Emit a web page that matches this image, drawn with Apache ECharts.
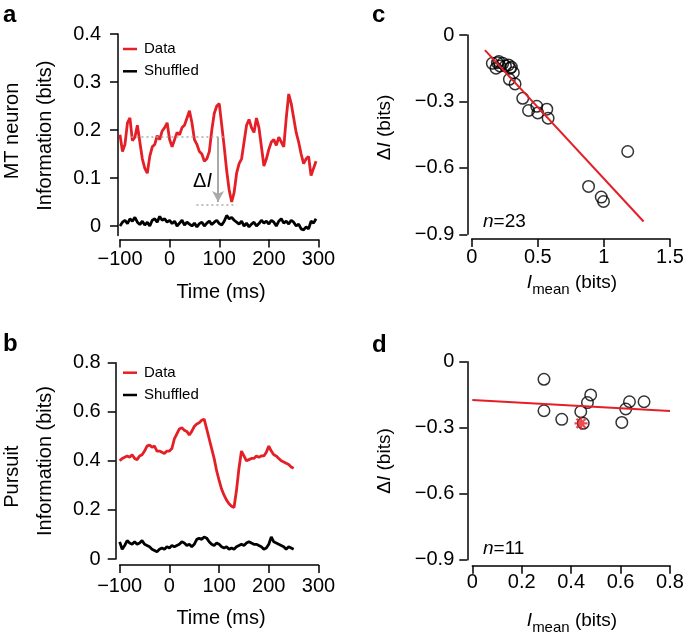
<!DOCTYPE html>
<html><head><meta charset="utf-8">
<script src="https://cdn.jsdelivr.net/npm/echarts@6/dist/echarts.min.js"></script>
<style>html,body{margin:0;padding:0;background:#fff}#c{width:685px;height:637px}</style>
</head><body><div id="c"></div>
<script>
// ---------- data ----------
// sample times (ms), 5 ms spacing
const timeA = []; for (let t = -100; t <= 295; t += 5) timeA.push(t);
const timeB = []; for (let t = -100; t <= 250; t += 5) timeB.push(t);

// Panel a: MT neuron information (bits)
const aData = [
  0.19, 0.155, 0.17, 0.215, 0.225, 0.178, 0.185, 0.21, 0.175, 0.14,
  0.12, 0.11, 0.145, 0.165, 0.17, 0.188, 0.18, 0.198, 0.205, 0.215,
  0.18, 0.165, 0.18, 0.195, 0.19, 0.205, 0.21, 0.225, 0.24, 0.215,
  0.18, 0.17, 0.155, 0.15, 0.135, 0.14, 0.155, 0.2, 0.235, 0.25,
  0.255, 0.21, 0.165, 0.115, 0.075, 0.05, 0.07, 0.11, 0.13, 0.14,
  0.175, 0.21, 0.222, 0.205, 0.195, 0.225, 0.205, 0.165, 0.125, 0.14,
  0.16, 0.175, 0.18, 0.168, 0.185, 0.175, 0.165, 0.225, 0.275, 0.255,
  0.225, 0.195, 0.175, 0.15, 0.13, 0.14, 0.145, 0.105, 0.12, 0.135
];
const aShuffled = [
  0.0, 0.008, 0.012, 0.005, 0.015, 0.01, 0.018, 0.008, 0.003, 0.01,
  0.002, 0.008, 0.0, 0.012, 0.015, 0.008, 0.02, 0.012, 0.015, 0.008,
  0.012, 0.005, 0.01, 0.0, 0.006, 0.012, 0.002, 0.008, 0.004, 0.0,
  0.006, -0.002, 0.005, 0.008, 0.0, 0.006, 0.01, 0.003, 0.008, 0.012,
  0.005, 0.002, 0.01, 0.022, 0.015, 0.018, 0.012, 0.008, 0.004, 0.01,
  0.0, 0.006, -0.002, 0.004, 0.008, 0.0, 0.005, 0.012, 0.006, 0.01,
  0.004, 0.012, 0.008, 0.0, 0.01, 0.015, 0.006, 0.01, 0.004, 0.012,
  0.008, 0.0, 0.004, -0.006, -0.008, -0.002, -0.006, 0.01, 0.006, 0.015
];
// Delta-I annotation (time ms, bits)
const deltaTopLine = [-77, 114, 0.185];
const deltaBottomLine = [54, 135, 0.045];
const deltaArrow = [97.6, 0.185, 0.05];

// Panel b: Pursuit information (bits)
const bData = [
  0.40, 0.41, 0.415, 0.42, 0.415, 0.425, 0.41, 0.405, 0.42, 0.425,
  0.44, 0.46, 0.465, 0.455, 0.46, 0.44, 0.44, 0.435, 0.43, 0.44,
  0.44, 0.45, 0.49, 0.51, 0.53, 0.535, 0.525, 0.52, 0.505, 0.52,
  0.54, 0.55, 0.555, 0.565, 0.57, 0.53, 0.49, 0.45, 0.41, 0.36,
  0.32, 0.285, 0.26, 0.24, 0.225, 0.215, 0.21, 0.28, 0.37, 0.44,
  0.42, 0.40, 0.405, 0.41, 0.41, 0.42, 0.415, 0.42, 0.42, 0.435,
  0.46, 0.44, 0.425, 0.42, 0.41, 0.40, 0.395, 0.39, 0.385, 0.375,
  0.37
];
const bShuffled = [
  0.07, 0.04, 0.055, 0.075, 0.065, 0.06, 0.07, 0.06, 0.065, 0.075,
  0.06, 0.055, 0.05, 0.04, 0.035, 0.03, 0.04, 0.045, 0.04, 0.05,
  0.045, 0.055, 0.05, 0.055, 0.06, 0.07, 0.065, 0.055, 0.06, 0.05,
  0.06, 0.08, 0.085, 0.08, 0.09, 0.085, 0.07, 0.06, 0.055, 0.065,
  0.06, 0.05, 0.045, 0.05, 0.04, 0.045, 0.04, 0.05, 0.055, 0.06,
  0.055, 0.065, 0.07, 0.065, 0.06, 0.06, 0.055, 0.05, 0.04, 0.045,
  0.06, 0.09, 0.07, 0.065, 0.06, 0.055, 0.05, 0.04, 0.05, 0.045,
  0.04
];

// Panel c: I_mean vs Delta I (MT neurons, n=23)
const cX = [0.156, 0.194, 0.214, 0.184, 0.235, 0.205, 0.255, 0.278, 0.29, 0.315, 0.3, 0.285, 0.328,
            0.386, 0.43, 0.492, 0.5, 0.568, 0.578, 0.884, 0.98, 0.997, 1.18];
const cY = [-0.128, -0.125, -0.14, -0.15, -0.128, -0.12, -0.14, -0.135, -0.15, -0.17, -0.145, -0.2, -0.221,
            -0.286, -0.341, -0.322, -0.352, -0.335, -0.376, -0.684, -0.732, -0.752, -0.526];
const cFitX = [0.1, 1.3];
const cFitY = [-0.068, -0.842];

// Panel d: pursuit (n=11)
const dX = [0.29, 0.29, 0.362, 0.439, 0.449, 0.466, 0.479, 0.605, 0.621, 0.636, 0.695];
const dY = [-0.08, -0.223, -0.262, -0.227, -0.28, -0.186, -0.151, -0.276, -0.215, -0.182, -0.182];
const dStar = [0.44, -0.28];
const dFitX = [0, 0.8];
const dFitY = [-0.174, -0.224];

// tick values
const aYTicks = [0, 0.1, 0.2, 0.3, 0.4];

// ---------- styling ----------
const FONT = '"Liberation Sans", Arial, Helvetica, sans-serif';
const RED = '#e41f26';
const GRAY = '#a9a9a9';
const fmt = v => { const r = Math.round(v * 1000) / 1000; return (r === 0 ? '0' : String(r)).replace('-', '\u2212'); };

function mkAxis(kind, gi, min, max, interval, offset, margin) {
  return {
    type: 'value', gridIndex: gi, min: min, max: max, interval: interval, offset: offset,
    position: kind === 'x' ? 'bottom' : 'left',
    axisLine: { show: true, onZero: false, lineStyle: { color: '#000', width: 1.5 } },
    axisTick: { show: true, inside: false, length: 8, lineStyle: { color: '#000', width: 1.5 } },
    axisLabel: { show: true, margin: margin, color: '#000', fontSize: 20, fontFamily: FONT, formatter: fmt },
    splitLine: { show: false }, minorTick: { show: false }
  };
}

const yA = mkAxis('y', 0, -0.02, 0.4, null, 2, 17);
delete yA.interval;
yA.axisTick.customValues = aYTicks;
yA.axisLabel.customValues = aYTicks;

const grids = [
  { left: 120, top: 34, width: 198.5, height: 201.6 },
  { left: 119.7, top: 362.7, width: 198.8, height: 196.3 },
  { left: 471.7, top: 35, width: 198.3, height: 199.3 },
  { left: 472.3, top: 361.7, width: 197.7, height: 198 }
].map(g => Object.assign(g, { containLabel: false, outerBoundsMode: 'none' }));

const pair = (xs, ys) => ys.map((v, i) => [xs[i], v]);

const legendBase = {
  orient: 'vertical', padding: 0, itemGap: 7.3, itemWidth: 14, itemHeight: 2.5, icon: 'rect',
  selectedMode: false, data: ['Data', 'Shuffled'],
  textStyle: { fontSize: 15, color: '#000', fontFamily: FONT, padding: [0, 0, 0, 2] }
};

const dashStyle = { color: GRAY, width: 1.5, type: [2, 3] };
const TRACE_W = 2.8;

const option = {
  animation: false,
  backgroundColor: '#fff',
  grid: grids,
  legend: [
    Object.assign({}, legendBase, { left: 123, top: 41.5 }),
    Object.assign({}, legendBase, { left: 123, top: 365.2 })
  ],
  xAxis: [
    mkAxis('x', 0, -100, 300, 100, 4, 10),
    mkAxis('x', 1, -100, 300, 100, 6, 11),
    mkAxis('x', 2, 0, 1.5, 0.5, 4.7, 8),
    mkAxis('x', 3, 0, 0.8, 0.2, 6, 7)
  ],
  yAxis: [
    yA,
    mkAxis('y', 1, 0, 0.8, 0.2, 4, 15),
    mkAxis('y', 2, -0.9, 0, 0.3, 4.4, 13),
    mkAxis('y', 3, -0.9, 0, 0.3, 5, 13)
  ],
  series: [
    { type: 'line', name: 'Shuffled', xAxisIndex: 0, yAxisIndex: 0, data: pair(timeA, aShuffled),
      symbol: 'none', clip: false, silent: true,
      lineStyle: { color: '#000', width: TRACE_W }, itemStyle: { color: '#000' } },
    { type: 'line', name: 'Data', xAxisIndex: 0, yAxisIndex: 0, data: pair(timeA, aData),
      symbol: 'none', clip: false, silent: true,
      lineStyle: { color: RED, width: TRACE_W }, itemStyle: { color: RED },
      markLine: {
        silent: true, symbol: 'none', label: { show: false }, emphasis: { disabled: true },
        data: [
          [{ coord: [deltaTopLine[0], deltaTopLine[2]], lineStyle: dashStyle }, { coord: [deltaTopLine[1], deltaTopLine[2]], lineStyle: dashStyle }],
          [{ coord: [deltaBottomLine[0], deltaBottomLine[2]], lineStyle: dashStyle }, { coord: [deltaBottomLine[1], deltaBottomLine[2]], lineStyle: dashStyle }],
          [{ coord: [deltaArrow[0], deltaArrow[1]], symbol: 'none', lineStyle: { color: GRAY, width: 2, type: 'solid' } },
           { coord: [deltaArrow[0], deltaArrow[2]], symbol: 'arrow', symbolSize: [9, 11], lineStyle: { color: GRAY, width: 2, type: 'solid' } }]
        ]
      } },
    { type: 'line', name: 'Shuffled', xAxisIndex: 1, yAxisIndex: 1, data: pair(timeB, bShuffled),
      symbol: 'none', clip: false, silent: true,
      lineStyle: { color: '#000', width: TRACE_W }, itemStyle: { color: '#000' } },
    { type: 'line', name: 'Data', xAxisIndex: 1, yAxisIndex: 1, data: pair(timeB, bData),
      symbol: 'none', clip: false, silent: true,
      lineStyle: { color: RED, width: TRACE_W }, itemStyle: { color: RED } },
    { type: 'scatter', xAxisIndex: 2, yAxisIndex: 2, data: pair(cX, cY), symbol: 'circle', symbolSize: 11.5, silent: true,
      itemStyle: { color: 'rgba(0,0,0,0)', borderColor: '#000', borderWidth: 1.5 } },
    { type: 'line', xAxisIndex: 2, yAxisIndex: 2, data: pair(cFitX, cFitY), symbol: 'none', silent: true,
      lineStyle: { color: RED, width: 2 } },
    { type: 'scatter', xAxisIndex: 3, yAxisIndex: 3, data: pair(dX, dY), symbol: 'circle', symbolSize: 11.5, silent: true,
      itemStyle: { color: 'rgba(0,0,0,0)', borderColor: '#000', borderWidth: 1.5 } },
    { type: 'line', xAxisIndex: 3, yAxisIndex: 3, data: pair(dFitX, dFitY), symbol: 'none', silent: true,
      lineStyle: { color: RED, width: 2 } },
    { type: 'scatter', xAxisIndex: 3, yAxisIndex: 3, data: [dStar], silent: true,
      symbol: 'path://M10,0L10,20M0,10L20,10M3,3L17,17M3,17L17,3', symbolSize: 13,
      itemStyle: { color: 'none', borderColor: RED, borderWidth: 2.2 } }
  ],
  graphic: []
};

// ---------- text labels ----------
function txt(text, x, y, opts) {
  opts = opts || {};
  return {
    type: 'text', x: x, y: y, rotation: opts.rot || 0, silent: true,
    style: {
      text: text, fill: '#000', align: opts.align || 'center', verticalAlign: 'middle',
      fontSize: opts.size || 20, fontFamily: FONT, fontWeight: opts.bold ? 'bold' : 'normal',
      rich: opts.rich
    }
  };
}
const R90 = Math.PI / 2;
const richDI = {
  n: { fontSize: 19, fontFamily: FONT, fill: '#000' },
  i: { fontSize: 19, fontFamily: FONT, fontStyle: 'italic', fill: '#000' }
};
const richImean = {
  n: { fontSize: 19, fontFamily: FONT, fill: '#000' },
  i: { fontSize: 19, fontFamily: FONT, fontStyle: 'italic', fill: '#000' },
  s: { fontSize: 15, fontFamily: FONT, fill: '#000', padding: [14, 0, 0, 0] }
};
const richN = {
  n: { fontSize: 19, fontFamily: FONT, fill: '#000' },
  i: { fontSize: 19, fontFamily: FONT, fontStyle: 'italic', fill: '#000' }
};
const richDelta = {
  n: { fontSize: 20, fontFamily: FONT, fill: '#000' },
  i: { fontSize: 20, fontFamily: FONT, fontStyle: 'italic', fill: '#000' }
};
option.graphic = [
  txt('a', 3, 15, { align: 'left', bold: true, size: 24 }),
  txt('b', 3, 344, { align: 'left', bold: true, size: 24 }),
  txt('c', 372, 15.3, { align: 'left', bold: true, size: 24 }),
  txt('d', 372, 345, { align: 'left', bold: true, size: 24 }),
  txt('MT neuron', 12.6, 131, { rot: R90 }),
  txt('Information (bits)', 45.6, 135.7, { rot: R90 }),
  txt('Time (ms)', 221, 292.8),
  txt('Pursuit', 12.6, 476.7, { rot: R90 }),
  txt('Information (bits)', 45.6, 461, { rot: R90 }),
  txt('Time (ms)', 221, 618),
  txt('{n|\u0394}{i|I}', 202.5, 181.3, { rich: richDelta }),
  txt('{n|\u0394}{i|I}{n| (bits)}', 384.8, 127.5, { rot: R90, rich: richDI }),
  txt('{n|\u0394}{i|I}{n| (bits)}', 384.8, 461, { rot: R90, rich: richDI }),
  txt('{i|I}{s|mean}{n| (bits)}', 572, 282.5, { rich: richImean }),
  txt('{i|I}{s|mean}{n| (bits)}', 572, 620.5, { rich: richImean }),
  txt('{i|n}{n|=23}', 483, 221.7, { align: 'left', rich: richN }),
  txt('{i|n}{n|=11}', 483, 548.7, { align: 'left', rich: richN })
];

const chart = echarts.init(document.getElementById('c'), null, { renderer: 'canvas' });
chart.setOption(option);
</script>
</body></html>
